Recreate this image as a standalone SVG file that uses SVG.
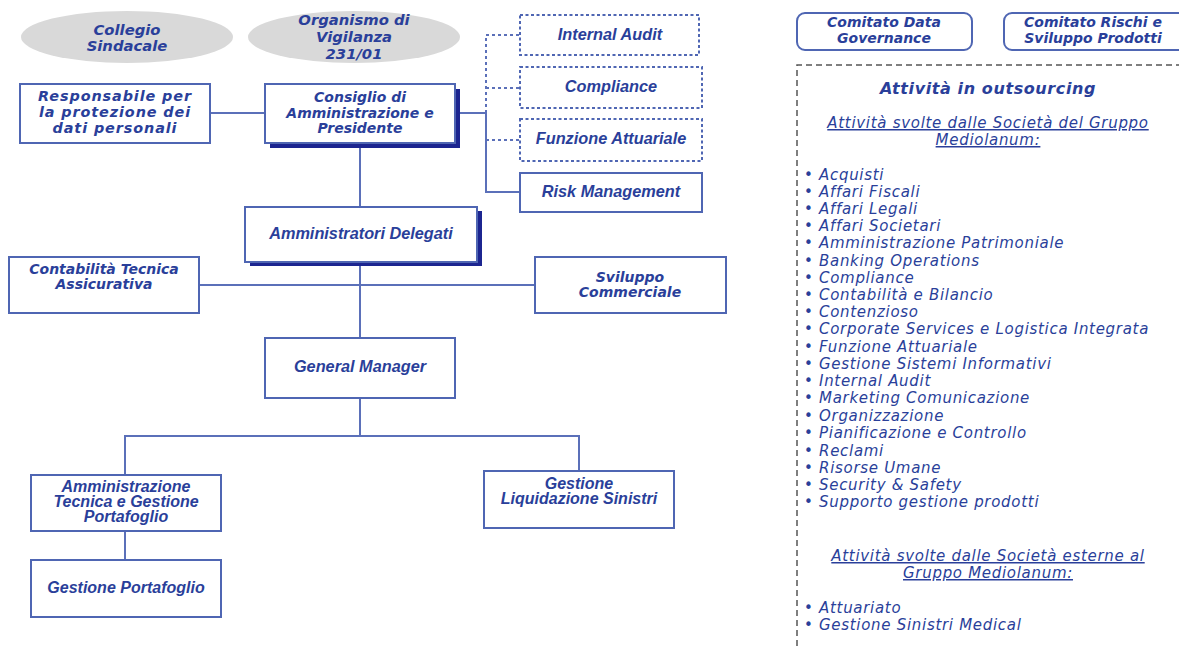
<svg xmlns="http://www.w3.org/2000/svg" width="1179" height="646" viewBox="0 0 1179 646">
<style>
.bx{fill:#fff;stroke:#4f66b3;stroke-width:2}
.dot{fill:#fff;stroke:#4f66b3;stroke-width:2;stroke-dasharray:3 2.5}
.sh{fill:#1c2590}
.el{fill:#d9d9d9}
.ln{fill:none;stroke:#5b70b9;stroke-width:2}
.dl{fill:none;stroke:#5b70b9;stroke-width:2;stroke-dasharray:3 3}
.v{font-family:"DejaVu Sans",Verdana,sans-serif;font-weight:bold;font-style:italic;font-size:14px;fill:#2a3f9a;text-anchor:middle}
.v15{font-size:14.8px}
.v16{font-size:14.4px;letter-spacing:0.9px}
.tt{font-size:16px;letter-spacing:0.6px}
.a{font-family:"Liberation Sans",Arial,sans-serif;font-weight:bold;font-style:italic;font-size:16.3px;fill:#2a3f9a;text-anchor:middle}
.n{font-family:"Liberation Sans",Arial,sans-serif;font-weight:bold;font-style:italic;font-size:16px;fill:#2a3f9a;text-anchor:middle}
.li{font-family:"DejaVu Sans",Verdana,sans-serif;font-style:italic;font-size:15px;letter-spacing:0.7px;fill:#2a3f9a}
.u{font-family:"DejaVu Sans",Verdana,sans-serif;font-style:italic;font-size:15px;letter-spacing:0.7px;fill:#2a3f9a;text-anchor:middle;text-decoration:underline}
</style>
<rect width="1179" height="646" fill="#fff"/>
<g id="connectors">
<path class="ln" d="M210,113 H265"/>
<path class="ln" d="M360,143 V207"/>
<path class="ln" d="M455,113 H486 V192 H520"/>
<path class="dl" d="M486,113 V35 H520 M486,88 H520 M486,140 H520"/>
<path class="ln" d="M199,285 H535"/>
<path class="ln" d="M360,262 V338"/>
<path class="ln" d="M360,398 V436"/>
<path class="ln" d="M125,475 V436 H579 V471"/>
<path class="ln" d="M125,531 V560"/>
</g>
<g id="collegio"><ellipse class="el" cx="127" cy="37" rx="106" ry="26"/><text class="v v15" x="127" y="35">Collegio</text><text class="v v15" x="127" y="51">Sindacale</text></g>
<g id="organismo"><ellipse class="el" cx="354" cy="37" rx="106" ry="26"/><text class="v v15" x="354" y="25">Organismo di</text><text class="v v15" x="354" y="42">Vigilanza</text><text class="v v15" x="354" y="59">231/01</text></g>
<g id="responsabile"><rect class="bx" x="20" y="84" width="190" height="59"/><text class="v v16" x="115" y="101">Responsabile per</text><text class="v v16" x="115" y="117">la protezione dei</text><text class="v v16" x="115" y="133">dati personali</text></g>
<g id="consiglio"><rect class="sh" x="270" y="89" width="190" height="59"/><rect class="bx" x="265" y="84" width="190" height="59"/><text class="v" x="360" y="102">Consiglio di</text><text class="v" x="360" y="118">Amministrazione e</text><text class="v" x="360" y="133">Presidente</text></g>
<g id="internal-audit"><rect class="dot" x="520" y="15" width="179" height="40"/><text class="a" x="610" y="40">Internal Audit</text></g>
<g id="compliance"><rect class="dot" x="520" y="67" width="182" height="41"/><text class="a" x="611" y="92">Compliance</text></g>
<g id="funzione-attuariale"><rect class="dot" x="520" y="119" width="182" height="42"/><text class="a" x="611" y="144">Funzione Attuariale</text></g>
<g id="risk-management"><rect class="bx" x="520" y="173" width="182" height="39"/><text class="a" x="611" y="197">Risk Management</text></g>
<g id="amministratori-delegati"><rect class="sh" x="250" y="211" width="232" height="55"/><rect class="bx" x="245" y="207" width="232" height="55"/><text class="a" x="361" y="239">Amministratori Delegati</text></g>
<g id="contabilita"><rect class="bx" x="9" y="257" width="190" height="56"/><text class="v" x="104" y="274">Contabilità Tecnica</text><text class="v" x="104" y="289">Assicurativa</text></g>
<g id="sviluppo"><rect class="bx" x="535" y="257" width="191" height="56"/><text class="v" x="630" y="282">Sviluppo</text><text class="v" x="630" y="297">Commerciale</text></g>
<g id="general-manager"><rect class="bx" x="265" y="338" width="190" height="60"/><text class="a" x="360" y="372">General Manager</text></g>
<g id="amm-tecnica"><rect class="bx" x="31" y="475" width="190" height="56"/><text class="n" x="126" y="492">Amministrazione</text><text class="n" x="126" y="507">Tecnica e Gestione</text><text class="n" x="126" y="522">Portafoglio</text></g>
<g id="gestione-liquidazione"><rect class="bx" x="484" y="471" width="190" height="57"/><text class="n" x="579" y="489">Gestione</text><text class="n" x="579" y="504">Liquidazione Sinistri</text></g>
<g id="gestione-portafoglio"><rect class="bx" x="31" y="560" width="190" height="57"/><text class="n" x="126" y="593">Gestione Portafoglio</text></g>
<g id="comitato-data"><rect class="bx" x="797" y="13" width="175" height="37" rx="8"/><text class="v" x="884" y="27">Comitato Data</text><text class="v" x="884" y="43">Governance</text></g>
<g id="comitato-rischi"><rect class="bx" x="1004" y="13" width="185" height="37" rx="8"/><text class="v" x="1093" y="27">Comitato Rischi e</text><text class="v" x="1093" y="43">Sviluppo Prodotti</text></g>
<g id="outsourcing">
<path d="M797,646 V65 H1179" fill="none" stroke="#555" stroke-width="1.5" stroke-dasharray="6 4"/>
<text class="v tt" x="988" y="94">Attività in outsourcing</text>
<text class="u" x="988" y="128">Attività svolte dalle Società del Gruppo</text>
<text class="u" x="988" y="145">Mediolanum:</text>
<g class="li">
<text x="804" y="180">• Acquisti</text>
<text x="804" y="197">• Affari Fiscali</text>
<text x="804" y="214">• Affari Legali</text>
<text x="804" y="231">• Affari Societari</text>
<text x="804" y="248">• Amministrazione Patrimoniale</text>
<text x="804" y="266">• Banking Operations</text>
<text x="804" y="283">• Compliance</text>
<text x="804" y="300">• Contabilità e Bilancio</text>
<text x="804" y="317">• Contenzioso</text>
<text x="804" y="334">• Corporate Services e Logistica Integrata</text>
<text x="804" y="352">• Funzione Attuariale</text>
<text x="804" y="369">• Gestione Sistemi Informativi</text>
<text x="804" y="386">• Internal Audit</text>
<text x="804" y="403">• Marketing Comunicazione</text>
<text x="804" y="421">• Organizzazione</text>
<text x="804" y="438">• Pianificazione e Controllo</text>
<text x="804" y="456">• Reclami</text>
<text x="804" y="473">• Risorse Umane</text>
<text x="804" y="490">• Security &amp; Safety</text>
<text x="804" y="507">• Supporto gestione prodotti</text>
</g>
<text class="u" x="988" y="561">Attività svolte dalle Società esterne al</text>
<text class="u" x="988" y="578">Gruppo Mediolanum:</text>
<g class="li">
<text x="804" y="613">• Attuariato</text>
<text x="804" y="630">• Gestione Sinistri Medical</text>
</g>
</g>
</svg>
